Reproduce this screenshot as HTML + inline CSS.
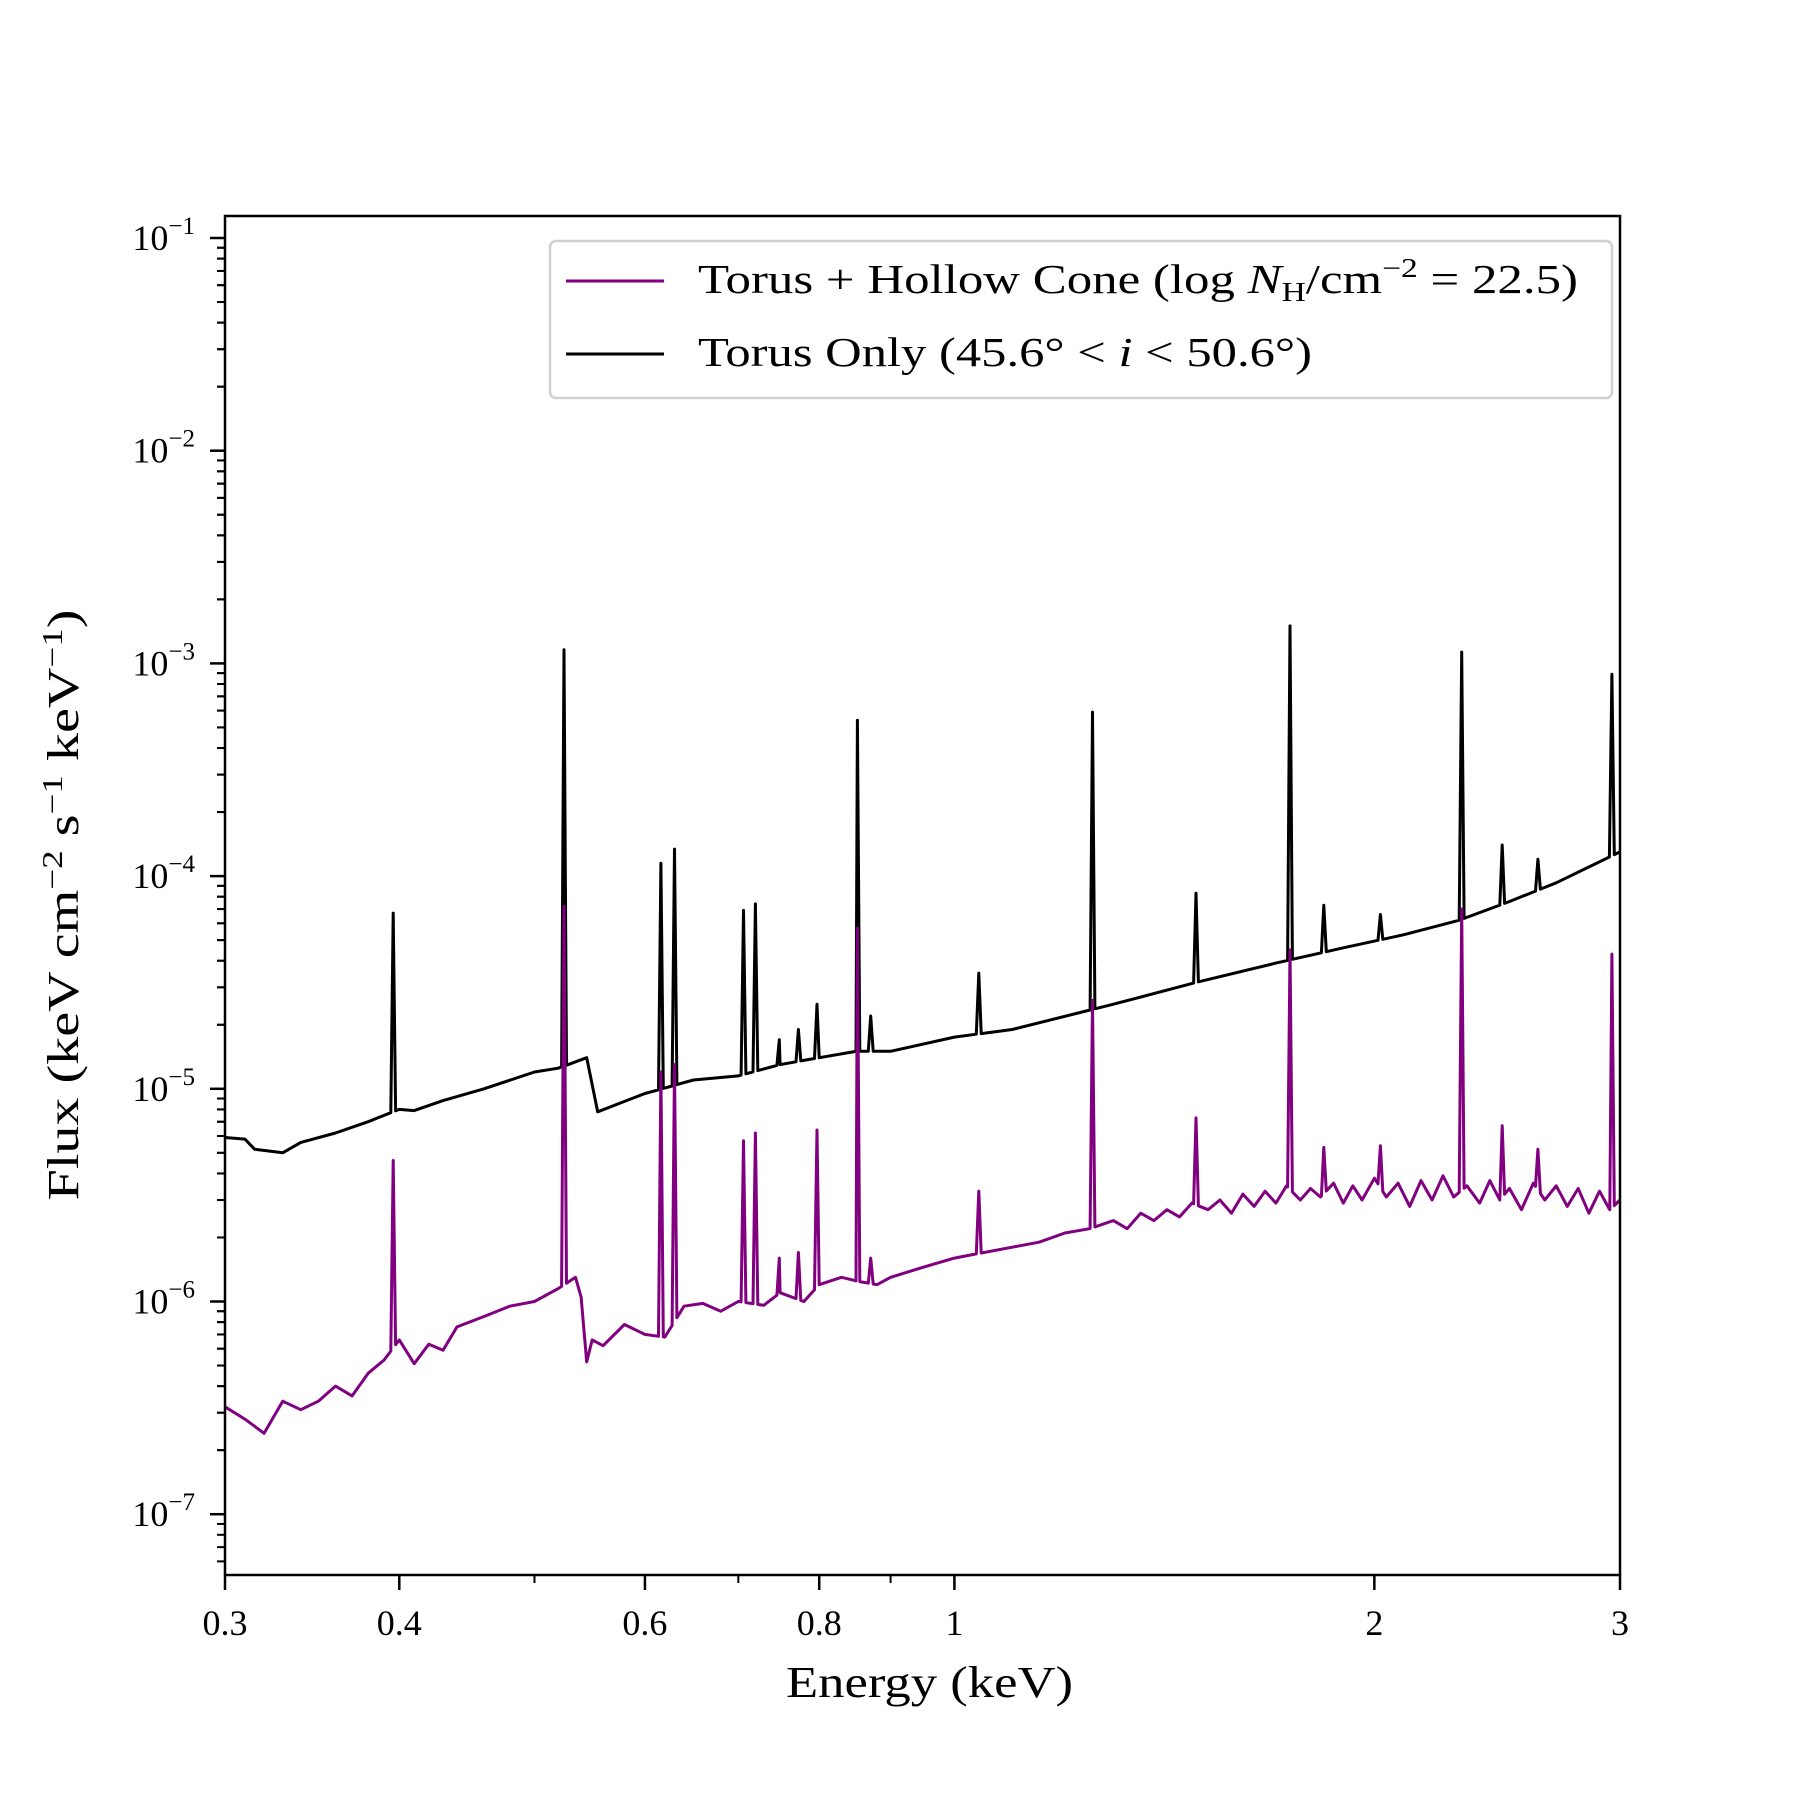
<!DOCTYPE html>
<html><head><meta charset="utf-8"><style>
body{margin:0;background:#fff}
svg{display:block;font-family:"Liberation Serif",serif}
</style></head><body>
<svg id="chart" width="1800" height="1800" viewBox="0 0 1800 1800">
<rect x="0" y="0" width="1800" height="1800" fill="#fff"/>
<g id="plot"></g>
<g id="axes"></g>
<text x="786" y="1697" font-size="44" textLength="287" lengthAdjust="spacingAndGlyphs">Energy (keV)</text>
<text transform="translate(78,905) rotate(-90)" font-size="44" text-anchor="middle" textLength="591" lengthAdjust="spacingAndGlyphs">Flux (keV cm<tspan dy="-16" font-size="29">−2</tspan><tspan dy="16"> s</tspan><tspan dy="-16" font-size="29">−1</tspan><tspan dy="16"> keV</tspan><tspan dy="-16" font-size="29">−1</tspan><tspan dy="16">)</tspan></text>
<g>
<rect x="550" y="241" width="1062" height="157" rx="6" fill="#fff" fill-opacity="0.8" stroke="#d0d0d0" stroke-width="2.5"/>
<line x1="566" y1="281" x2="664" y2="281" stroke="#800080" stroke-width="3"/>
<text x="698" y="293" font-size="41" textLength="880" lengthAdjust="spacingAndGlyphs">Torus + Hollow Cone (log <tspan font-style="italic">N</tspan><tspan dy="8" font-size="27">H</tspan><tspan dy="-8">/cm</tspan><tspan dy="-16" font-size="27">−2</tspan><tspan dy="16"> = 22.5)</tspan></text>
<line x1="566" y1="354" x2="664" y2="354" stroke="#000" stroke-width="3"/>
<text x="698" y="366" font-size="41" textLength="614" lengthAdjust="spacingAndGlyphs">Torus Only (45.6° &lt; <tspan font-style="italic">i</tspan> &lt; 50.6°)</text>
</g>
</svg>
<script>
// continuum knots (keV) and values
const blackE=[0.30,0.31,0.315,0.33,0.34,0.36,0.38,0.39,0.40,0.41,0.43,0.46,0.50,0.52,0.545,0.555,0.60,0.65,0.70,0.75,0.80,0.85,0.90,1.0,1.1,1.3,1.5,1.7,1.9,2.1,2.3,2.5,2.7,3.0];
const blackF=[5.9e-6,5.8e-6,5.2e-6,5.0e-6,5.6e-6,6.2e-6,7.0e-6,7.5e-6,8.0e-6,7.9e-6,8.8e-6,1.0e-5,1.2e-5,1.25e-5,1.4e-5,7.8e-6,9.5e-6,1.1e-5,1.15e-5,1.3e-5,1.4e-5,1.5e-5,1.5e-5,1.75e-5,1.9e-5,2.5e-5,3.2e-5,3.9e-5,4.6e-5,5.3e-5,6.2e-5,7.6e-5,9.3e-5,1.3e-4];
const purpleE=[0.30,0.31,0.32,0.33,0.34,0.35,0.36,0.37,0.38,0.39,0.40,0.41,0.42,0.43,0.44,0.46,0.48,0.50,0.52,0.535,0.54,0.545,0.55,0.56,0.58,0.60,0.62,0.64,0.66,0.68,0.70,0.73,0.75,0.78,0.80,0.83,0.85,0.88,0.90,0.95,1.00,1.05,1.10,1.15,1.20,1.25,1.30,1.33,1.36,1.39,1.42,1.45,1.48,1.52,1.55,1.58,1.61,1.64,1.67,1.70,1.73,1.77,1.80,1.83,1.87,1.90,1.93,1.96,2.00,2.04,2.08,2.12,2.16,2.20,2.24,2.28,2.33,2.38,2.42,2.46,2.50,2.55,2.60,2.65,2.70,2.75,2.80,2.85,2.90,2.95,3.00];
const purpleF=[3.2e-7,2.8e-7,2.4e-7,3.4e-7,3.1e-7,3.4e-7,4.0e-7,3.6e-7,4.6e-7,5.3e-7,6.6e-7,5.1e-7,6.3e-7,5.9e-7,7.6e-7,8.5e-7,9.5e-7,1.0e-6,1.15e-6,1.3e-6,1.05e-6,5.2e-7,6.6e-7,6.2e-7,7.8e-7,7.0e-7,6.8e-7,9.5e-7,9.8e-7,9.0e-7,1.0e-6,9.6e-7,1.1e-6,1.0e-6,1.2e-6,1.3e-6,1.25e-6,1.2e-6,1.3e-6,1.45e-6,1.6e-6,1.7e-6,1.8e-6,1.9e-6,2.1e-6,2.2e-6,2.4e-6,2.2e-6,2.6e-6,2.4e-6,2.7e-6,2.5e-6,2.9e-6,2.7e-6,3.0e-6,2.6e-6,3.2e-6,2.8e-6,3.3e-6,2.9e-6,3.5e-6,3.0e-6,3.4e-6,3.1e-6,3.6e-6,2.9e-6,3.5e-6,3.0e-6,3.8e-6,3.1e-6,3.6e-6,2.8e-6,3.7e-6,3.0e-6,3.9e-6,3.1e-6,3.5e-6,2.9e-6,3.7e-6,3.0e-6,3.4e-6,2.7e-6,3.6e-6,3.0e-6,3.5e-6,2.8e-6,3.4e-6,2.6e-6,3.3e-6,2.7e-6,3.0e-6];
// emission lines
const lineE=[0.396,0.525,0.616,0.630,0.706,0.720,0.749,0.773,0.797,0.852,0.871,1.041,1.256,1.49,1.74,1.84,2.02,2.31,2.47,2.62,2.96];
const lineBlack=[6.7e-5,1.16e-3,1.15e-4,1.34e-4,6.9e-5,7.4e-5,1.7e-5,1.9e-5,2.5e-5,5.4e-4,2.2e-5,3.5e-5,5.9e-4,8.3e-5,1.5e-3,7.3e-5,6.6e-5,1.13e-3,1.4e-4,1.2e-4,8.9e-4];
const linePurple=[4.6e-6,7.2e-5,1.2e-5,1.3e-5,5.7e-6,6.2e-6,1.6e-6,1.7e-6,6.4e-6,5.7e-5,1.6e-6,3.3e-6,2.6e-5,7.3e-6,4.5e-5,5.3e-6,5.4e-6,7.0e-5,6.7e-6,5.2e-6,4.3e-5];
const xTicks=[0.3,0.4,0.6,0.8,1,2,3];
const xTickLabels=["0.3","0.4","0.6","0.8","1","2","3"];
const yDecades=[-1,-2,-3,-4,-5,-6,-7];

const L=225,R=1620,T=216,B=1575;
const X=e=>L+(R-L)*Math.log10(e/0.3);
const yTop=238,dec=212.7;
const Y=v=>yTop+(-1-Math.log10(v))*dec;
const NS="http://www.w3.org/2000/svg";
function mk(tag,attrs,parent){const el=document.createElementNS(NS,tag);for(const k in attrs)el.setAttribute(k,attrs[k]);parent.appendChild(el);return el;}
function interp(E,F,e){let i=0;while(i<E.length-2&&E[i+1]<e)i++;const t=(Math.log(e)-Math.log(E[i]))/(Math.log(E[i+1])-Math.log(E[i]));return Math.exp(Math.log(F[i])+t*(Math.log(F[i+1])-Math.log(F[i])));}
function series(E,F,peaks){
  const pts=E.map((e,i)=>[e,F[i]]);
  lineE.forEach((e,i)=>{const d=e*0.004;pts.push([e-d,interp(E,F,e-d)]);pts.push([e,peaks[i]]);pts.push([e+d,interp(E,F,e+d)]);});
  pts.sort((a,b)=>a[0]-b[0]);
  return pts.filter(p=>p[0]>=0.3&&p[0]<=3).map(p=>X(p[0]).toFixed(1)+","+Y(p[1]).toFixed(1)).join(" ");
}
const plot=document.getElementById('plot');
const cp=mk('clipPath',{id:'clip'},plot);mk('rect',{x:L,y:T,width:R-L,height:B-T},cp);
const pb=mk('polyline',{points:series(blackE,blackF,lineBlack),fill:'none',stroke:'#000','stroke-width':3,'stroke-linejoin':'round','clip-path':'url(#clip)'},plot);


const pp=mk('polyline',{points:series(purpleE,purpleF,linePurple),fill:'none',stroke:'#800080','stroke-width':3,'stroke-linejoin':'round','clip-path':'url(#clip)'},plot);



const ax=document.getElementById('axes');
const fr=mk('rect',{x:L,y:T,width:R-L,height:B-T,fill:'none',stroke:'#000','stroke-width':2.5},ax);


xTicks.forEach((t,i)=>{
  const x=X(t);
  mk('line',{x1:x,y1:B,x2:x,y2:B+15,stroke:'#000','stroke-width':2.5},ax);
  const tx=mk('text',{x:x,y:B+60,'font-size':36,'text-anchor':'middle'},ax);
  tx.textContent=xTickLabels[i];
  
  
});
[0.5,0.7,0.9].forEach(t=>{const x=X(t);mk('line',{x1:x,y1:B,x2:x,y2:B+8,stroke:'#000','stroke-width':2},ax);});
yDecades.forEach(d=>{
  const y=Y(Math.pow(10,d));
  mk('line',{x1:L-15,y1:y,x2:L,y2:y,stroke:'#000','stroke-width':2.5},ax);
  const tx=mk('text',{x:L-30,y:y+12,'font-size':36,'text-anchor':'end'},ax);
  tx.innerHTML='10<tspan dy="-16" font-size="25">−'+(-d)+'</tspan>';
  
  
  for(let m=2;m<=9;m++){const v=m*Math.pow(10,d-1);const yy=Y(v);if(yy>T&&yy<B)mk('line',{x1:L-8,y1:yy,x2:L,y2:yy,stroke:'#000','stroke-width':2},ax);}
  for(let m=2;m<=9;m++){const v=m*Math.pow(10,d);const yy=Y(v);if(yy>T&&yy<B)mk('line',{x1:L-8,y1:yy,x2:L,y2:yy,stroke:'#000','stroke-width':2},ax);}
});
</script>
</body></html>
